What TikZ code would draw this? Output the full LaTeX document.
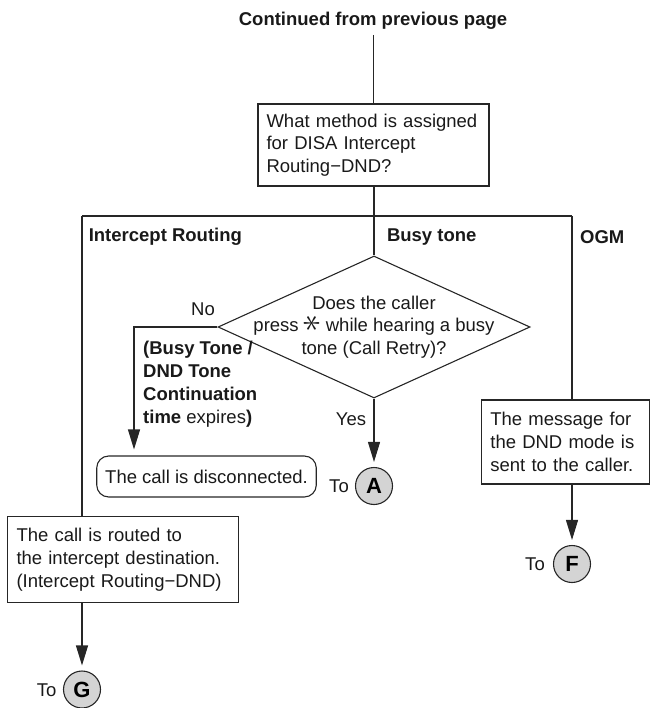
\documentclass[tikz,border=0pt]{standalone}
\usepackage{fontspec}
\usepackage{graphicx}
\setmainfont{Liberation Sans}
\usetikzlibrary{shapes.geometric,arrows.meta,calc}
\newcommand\keystar{\raisebox{0.02em}{\scalebox{2.1}{\rotatebox[origin=c]{90}{$\ast$}}}}
\begin{document}
\begin{tikzpicture}[x=1pt,y=-1pt]
\tikzset{
  base/.style={font=\fontsize{18.5}{22.7}\selectfont, text=black!90},
  lbl/.style={base, inner sep=0pt},
  boldlbl/.style={lbl, font=\fontsize{18.5}{22.7}\selectfont\bfseries},
  box/.style={base, draw=black!85, line width=1.1pt, align=left, inner xsep=8.5pt, inner ysep=0pt},
  rbox/.style={box, rounded corners=12pt},
  conn/.style={circle, draw=black!85, line width=1.1pt, fill=black!17, minimum size=37pt, inner sep=0pt, font=\fontsize{22}{22}\selectfont\bfseries},
  wire/.style={draw=black!85, line width=1.1pt},
  arr/.style={wire, -{Triangle[length=20pt,width=12pt]}, shorten >=5pt},
}
\useasboundingbox (0,0) rectangle (656,708);

% top
\node[boldlbl] (cont) at (373,21) {Continued from previous page};
\coordinate (ctop) at (373.5,35);
\node[box, minimum width=231pt, minimum height=82pt, text width=214pt] (q1) at (373.5,145)
  {What method is assigned\\for DISA Intercept\\Routing−DND?};
\draw[wire] (ctop) -- (q1.north);

% branching
\coordinate (j) at (374,216);
\coordinate (jl) at (82,216);
\coordinate (jr) at (572,216);
\draw[wire] (q1.south -| j) -- (j);
\draw[wire] (jl) -- (jr);

\node[boldlbl, anchor=west] (lir) at (88.6,237) {Intercept Routing};
\node[boldlbl, anchor=west] (lbt) at (386.8,237) {Busy tone};
\node[boldlbl, anchor=west] (logm) at (580,237) {OGM};

% diamond
\node[diamond, wire, minimum width=312pt, minimum height=142pt, inner sep=0pt] (d) at (374,327) {};
\node[lbl, align=center] (dt) at (d.center) {Does the caller\\press \keystar{} while hearing a busy\\tone (Call Retry)?};
\draw[wire] (j) -- (d.north);

% No branch
\coordinate (nob) at (134,327);
\node[lbl] (no) at (203,309) {No};
\node[lbl, align=left, anchor=west] (bt) at (143,384.2)
  {\textbf{(Busy Tone /}\\\textbf{DND Tone}\\\textbf{Continuation}\\\textbf{time} expires\textbf{)}};
\node[rbox, minimum width=215pt, minimum height=41pt] (disc) at (206.5,476.5) {The call is disconnected.};
\draw[arr, shorten >=6pt] (d.west) -- (nob) -- (nob |- disc.north);

% Yes branch
\node[lbl] (yes) at (351,419) {Yes};
\node[conn] (A) at (374,486) {A};
\node[lbl] (toA) at (339,486) {To};
\draw[arr] (d.south) -- (A);

% OGM branch
\node[box, minimum width=167.3pt, minimum height=84pt, text width=150pt] (msg) at (565.4,442)
  {The message for\\the DND mode is\\sent to the caller.};
\node[conn] (F) at (572,564) {F};
\node[lbl] (toF) at (535,564) {To};
\draw[wire] (jr) -- (jr |- msg.north);
\draw[arr] (F |- msg.south) -- (F);

% Intercept routing branch
\node[box, minimum width=230.6pt, minimum height=86pt, text width=213pt] (route) at (123,559.7)
  {The call is routed to\\the intercept destination.\\(Intercept Routing−DND)};
\node[conn] (G) at (82,689.5) {G};
\node[lbl] (toG) at (46.7,690) {To};
\draw[wire] (jl) -- (jl |- route.north);
\draw[arr] (G |- route.south) -- (G);
\end{tikzpicture}
\end{document}
